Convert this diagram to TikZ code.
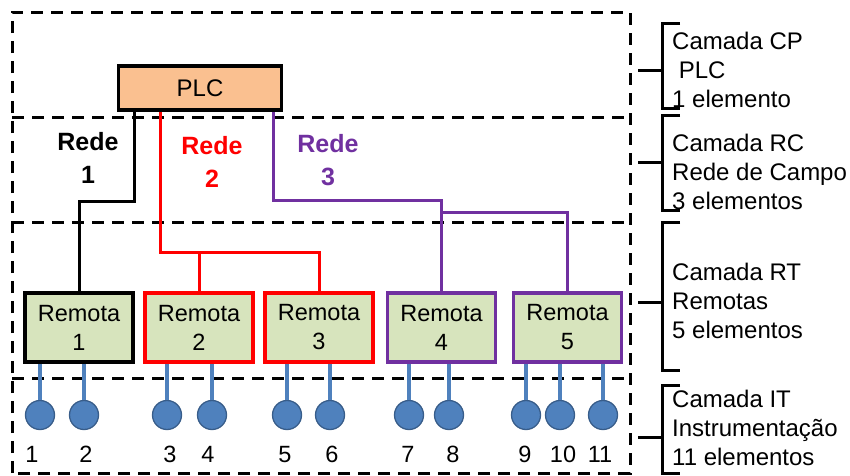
\documentclass[tikz,border=0pt]{standalone}
\usepackage{fontspec}
\setmainfont{Liberation Sans}
\definecolor{rd}{HTML}{FF0000}
\definecolor{pu}{HTML}{7030A0}
\definecolor{gf}{HTML}{D7E4BD}
\definecolor{of}{HTML}{FAC090}
\definecolor{bl}{HTML}{4F81BD}
\definecolor{dbl}{HTML}{385D8A}
\begin{document}
\begin{tikzpicture}[x=1pt,y=-1pt,
  layer/.style={draw=black,line width=3pt,dash pattern=on 12pt off 8pt},
  remota/.style={draw,line width=3.5pt,fill=gf,minimum width=108pt,minimum height=69pt,align=center,inner sep=0pt,
     font=\fontsize{23.5}{29}\selectfont},
  net/.style={line width=3pt},
  inst/.style={circle,fill=bl,draw=dbl,line width=1.3pt,minimum size=29pt,inner sep=0pt},
  instline/.style={draw=bl,line width=3.3pt},
  numlbl/.style={anchor=base,inner sep=0pt,font=\fontsize{23.5}{29}\selectfont},
  redelbl/.style={align=center,inner sep=0pt,font=\bfseries\fontsize{25}{33}\selectfont},
  sidelbl/.style={anchor=west,align=left,inner sep=0pt,font=\fontsize{24}{29}\selectfont},
  brk/.style={line width=3pt}]
\useasboundingbox (0,0) rectangle (850,475);
% layers
\draw[layer] (12,473) -- (12,12) -- (630,12) -- (630,473) -- cycle;
\draw[layer] (12,117) -- (630,117);
\draw[layer] (12,222) -- (630,222);
\draw[layer] (12,378) -- (630,378);
% PLC
\node[draw,line width=3.5pt,fill=of,minimum width=163pt,minimum height=44pt,inner sep=0pt,
  font=\fontsize{24}{29}\selectfont] (plc) at (200,88) {PLC};
% remotes
\node[remota,draw=black] (r1) at (79,327.5) {Remota\\1};
\node[remota,draw=rd] (r2) at (199,327.5) {Remota\\2};
\node[remota,draw=rd] (r3) at (319,327.5) {Remota\\3};
\node[remota,draw=pu] (r4) at (441.5,327.5) {Remota\\4};
\node[remota,draw=pu] (r5) at (567.5,327.5) {Remota\\5};
% networks
\draw[net,black] ([xshift=18pt]plc.south west) -- ++(0,90) -| (r1.north);
\draw[net,rd] ([xshift=44pt]plc.south west) -- ++(0,141) -| (r3.north);
\draw[net,rd] (r2.north) -- ++(0,-40);
\draw[net,pu] ([xshift=-10pt]plc.south east) -- ++(0,89) -| (r4.north);
\draw[net,pu] (r5.north) -- ++(0,-79) -| (r4.north);
% network labels
\node[redelbl,text=black] (n1) at (88,158) {Rede\\1};
\node[redelbl,text=rd] (n2) at (212,162) {Rede\\2};
\node[redelbl,text=pu] (n3) at (328,160) {Rede\\3};
% instruments
\foreach \i/\x/\r/\lx in {1/40/r1/32,2/84/r1/86,3/167/r2/170,4/212/r2/208,5/287/r3/285,6/330/r3/332,
   7/409/r4/408,8/449/r4/453,9/526/r5/525,10/560/r5/563,11/603/r5/600}{
  \node[inst] (i\i) at (\x,415) {};
  \draw[instline] (i\i.north) -- (i\i.north |- \r.south);
  \node[numlbl] (l\i) at (\lx,462) {\i};
}
% side brackets
\draw[brk] (680,23) -- (662,23) -- (662,108) -- (680,108);
\draw[brk] (638,70) -- (662,70);
\node[sidelbl] (s1) at (672,70) {Camada CP\\\ PLC\\1 elemento};
\draw[brk] (680,115) -- (662,115) -- (662,210) -- (680,210);
\draw[brk] (638,162) -- (662,162);
\node[sidelbl] (s2) at (672,172) {Camada RC\\Rede de Campo\\3 elementos};
\draw[brk] (680,222) -- (662,222) -- (662,370) -- (680,370);
\draw[brk] (638,302) -- (662,302);
\node[sidelbl] (s3) at (672,301) {Camada RT\\Remotas\\5 elementos};
\draw[brk] (680,385) -- (662,385) -- (662,473) -- (680,473);
\draw[brk] (638,437) -- (662,437);
\node[sidelbl] (s4) at (672,428) {Camada IT\\Instrumentação\\11 elementos};
\end{tikzpicture}
\end{document}
